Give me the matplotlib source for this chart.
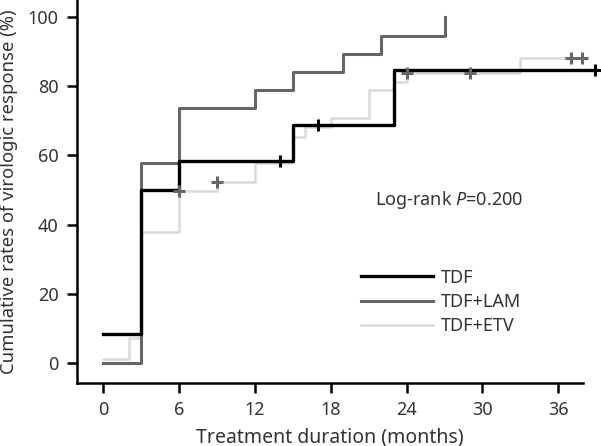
import matplotlib
matplotlib.use("Agg")
import matplotlib.pyplot as plt

FONT = ['Noto Sans', 'DejaVu Sans']
plt.rcParams['font.family'] = FONT
plt.rcParams['mathtext.fontset'] = 'custom'
plt.rcParams['mathtext.it'] = 'Noto Sans:italic'
plt.rcParams['mathtext.rm'] = 'Noto Sans'

# ---- data ----
tdf_t = [0, 3, 6, 15, 23, 38.9]
tdf_v = [8.5, 50.0, 58.5, 68.8, 84.6, 84.6]
tdf_cens_t = [14, 17, 38.9]
tdf_cens_v = [58.5, 68.8, 84.6]

lam_t = [0, 3, 6, 12, 15, 19, 22, 27, 27]
lam_v = [0.0, 57.9, 73.8, 79.0, 84.2, 89.4, 94.6, 94.6, 100.0]

etv_t = [0, 2, 3, 6, 9, 12, 15, 16, 18, 21, 23, 24, 33, 38.0]
etv_v = [1.2, 7.1, 37.9, 49.8, 52.4, 57.7, 65.4, 68.3, 70.7, 78.9, 81.3, 83.8, 88.0, 88.0]
etv_cens_t = [6, 9, 24, 29, 37, 37.9]
etv_cens_v = [49.8, 52.4, 83.8, 83.8, 88.0, 88.0]

xticks = [0, 6, 12, 18, 24, 30, 36]
yticks = [0, 20, 40, 60, 80, 100]
labels = ['TDF', 'TDF+LAM', 'TDF+ETV']
colors = ['#000000', '#666666', '#d9d9d9']

fig = plt.figure(figsize=(6.01, 4.46), dpi=100)
ax = fig.add_axes([0.1276, 0.142, 0.970 - 0.1276, 1.0 - 0.142])

ax.step(etv_t, etv_v, where='post', color=colors[2], lw=1.8, clip_on=False, label=labels[2], zorder=2)
ax.step(lam_t, lam_v, where='post', color=colors[1], lw=2.2, clip_on=False, label=labels[1], zorder=3)
ax.step(tdf_t, tdf_v, where='post', color=colors[0], lw=2.4, clip_on=False, label=labels[0], zorder=4)

ax.plot(etv_cens_t, etv_cens_v, ls='none', marker='+', ms=8, mew=2.2, color='#666666', clip_on=False, zorder=5)
ax.plot(tdf_cens_t, tdf_cens_v, ls='none', marker='+', ms=8, mew=2.2, color='#000000', clip_on=False, zorder=5)

ax.set_xlim(-2.1, 37.95)
ax.set_ylim(-5.7, 104.9)
ax.set_xticks(xticks)
ax.set_yticks(yticks)
for s in ['top', 'right']:
    ax.spines[s].set_visible(False)
for s in ['left', 'bottom']:
    ax.spines[s].set_linewidth(1.8)
ax.tick_params(direction='out', length=7, width=1.8, labelsize=13, labelcolor='#333333', pad=6)

ax.set_xlabel('Treatment duration (months)', fontsize=14, color='#333333', labelpad=6)
ax.set_ylabel('Cumulative rates of virologic response (%)', fontsize=13.3, color='#333333', labelpad=7)

ax.text(21.5, 47.2, r'Log-rank $P$=0.200', fontsize=13, color='#333333', va='center', ha='left')

handles, labs = ax.get_legend_handles_labels()
order = [labs.index(l) for l in labels]
leg = ax.legend([handles[i] for i in order], [labs[i] for i in order],
                loc='upper left', bbox_to_anchor=(0.53, 0.34), frameon=False,
                fontsize=13, handlelength=4.0, labelspacing=0.35, handletextpad=0.4,
                labelcolor='#333333')

fig.savefig('out.png', dpi=100)
